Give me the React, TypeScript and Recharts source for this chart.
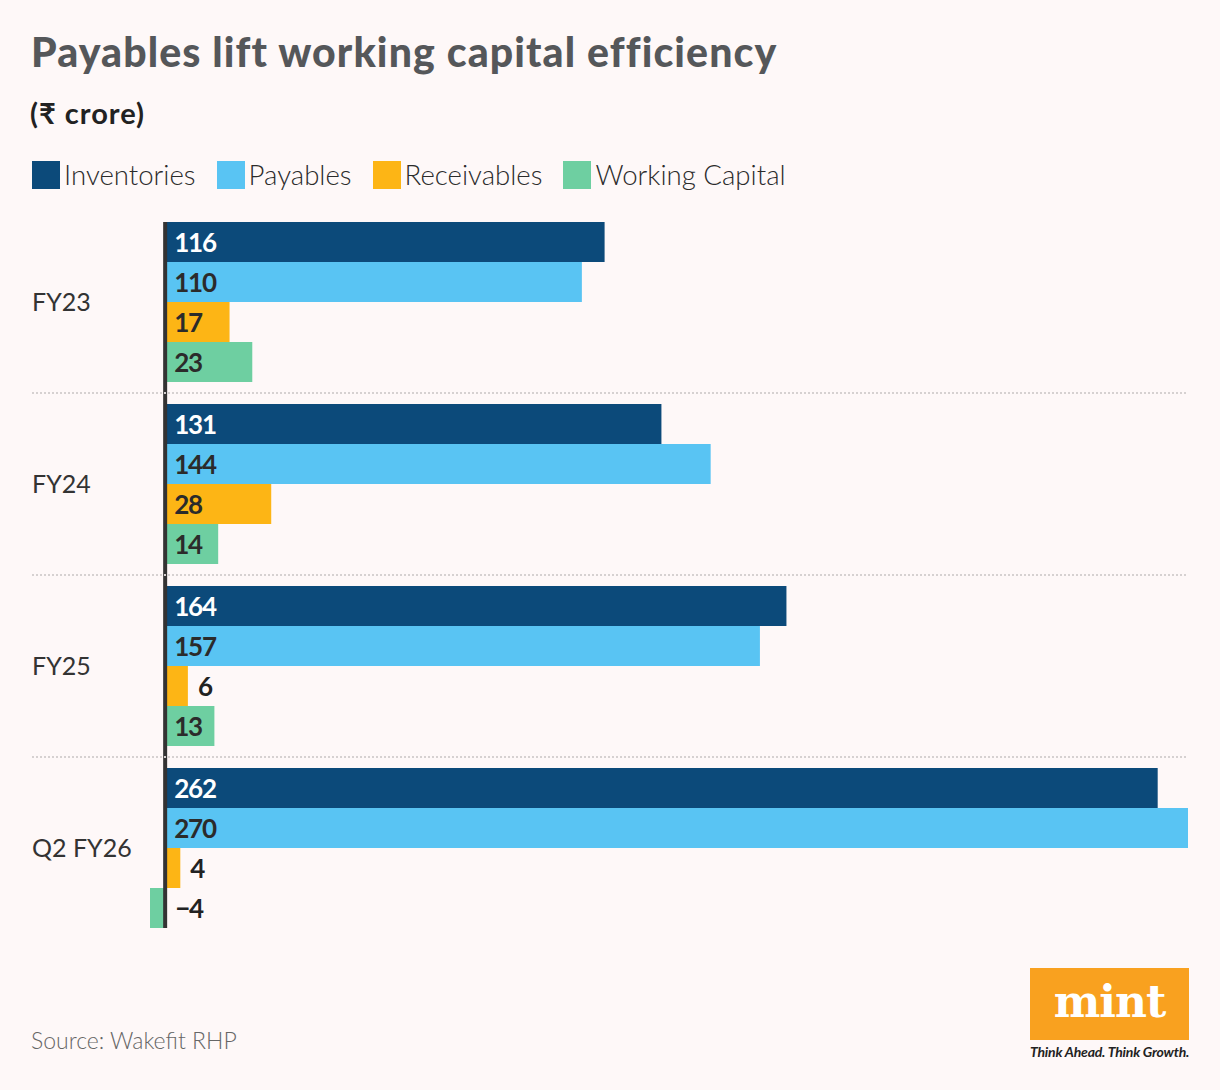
import { Bar, BarChart, LabelList, ReferenceLine, XAxis, YAxis } from "recharts";

// values (₹ crore)
const categories = ["FY23", "FY24", "FY25", "Q2 FY26"];
const inventories = [116, 131, 164, 262];
const payables = [110, 144, 157, 270];
const receivables = [17, 28, 6, 4];
const workingCapital = [23, 14, 13, -4];

const SERIES = [
  { key: "inventories", name: "Inventories", color: "#0c4a7a", text: "#ffffff" },
  { key: "payables", name: "Payables", color: "#59c4f3", text: "#2b2b2b" },
  { key: "receivables", name: "Receivables", color: "#fdb515", text: "#2b2b2b" },
  { key: "workingCapital", name: "Working Capital", color: "#6ecfa1", text: "#2b2b2b" },
] as const;

const BG = "#fef8f8";
const FONT = "Lato, 'Noto Sans', sans-serif";
const W = 1220;
const H = 1090;
const PLOT_TOP = 211;
const PLOT_BOTTOM = 939;
const BAND = (PLOT_BOTTOM - PLOT_TOP) / categories.length;

const data = categories.map((category, i) => ({
  category,
  inventories: inventories[i],
  payables: payables[i],
  receivables: receivables[i],
  workingCapital: workingCapital[i],
}));

function CategoryTick(props: any) {
  const { y, payload, index } = props;
  return (
    <g>
      {index > 0 && (
        <line
          x1={32}
          x2={1188}
          y1={y - BAND / 2}
          y2={y - BAND / 2}
          stroke="#d6d1d1"
          strokeWidth={2}
          strokeDasharray="2 2"
        />
      )}
      <text x={32} y={y} dy={9} textAnchor="start" fill="#333" fontSize={25} fontFamily={FONT}>
        {payload.value}
      </text>
    </g>
  );
}

function valueLabel(color: string) {
  return (props: any) => {
    const { x, y, width, height, value } = props;
    const small = Math.abs(value) < 10;
    const tx = small ? Math.max(x, x + width) + 10 : Math.min(x, x + width) + 9;
    const label = value < 0 ? `\u2212${Math.abs(value)}` : String(value);
    return (
      <text
        x={tx}
        y={y + height / 2}
        dy={9.5}
        fill={small ? "#222" : color}
        fontSize={26}
        fontWeight={700}
        fontFamily={FONT}
        letterSpacing={-1.2}
      >
        {label}
      </text>
    );
  };
}

export default function App() {
  return (
    <div
      style={{
        position: "absolute",
        top: 0,
        left: 0,
        width: W,
        height: H,
        background: BG,
        fontFamily: FONT,
        overflow: "hidden",
      }}
    >
      <div
        style={{
          position: "absolute",
          top: 27,
          left: 31,
          fontSize: 41,
          fontWeight: 900,
          color: "#55575a",
          letterSpacing: 1.1,
          whiteSpace: "nowrap",
        }}
      >
        Payables lift working capital efficiency
      </div>
      <div
        style={{
          position: "absolute",
          top: 95,
          left: 30,
          fontSize: 29,
          fontWeight: 700,
          color: "#222",
          letterSpacing: 1,
        }}
      >
        (₹ crore)
      </div>

      <div style={{ position: "absolute", top: 158, left: 32, display: "flex", alignItems: "center" }}>
        {SERIES.map((s) => (
          <div key={s.key} style={{ display: "flex", alignItems: "center", marginRight: 21 }}>
            <span style={{ width: 28, height: 28, background: s.color, display: "inline-block", marginRight: 4 }} />
            <span style={{ fontSize: 27.6, fontWeight: 300, color: "#2b2b2b", lineHeight: "34px" }}>{s.name}</span>
          </div>
        ))}
      </div>

      <div style={{ position: "absolute", top: 0, left: 0 }}>
        <BarChart
          width={W}
          height={H}
          data={data}
          layout="vertical"
          barSize={40}
          barGap={0}
          margin={{ top: PLOT_TOP, bottom: H - PLOT_BOTTOM, left: 0, right: 32 }}
        >
          <XAxis type="number" domain={[-4, 270]} hide />
          <YAxis
            type="category"
            dataKey="category"
            width={150}
            axisLine={false}
            tickLine={false}
            tick={<CategoryTick />}
          />
          {SERIES.map((s) => (
            <Bar key={s.key} dataKey={s.key} name={s.name} fill={s.color} isAnimationActive={false}>
              <LabelList dataKey={s.key} content={valueLabel(s.text)} />
            </Bar>
          ))}
          <ReferenceLine
            x={0}
            shape={(p: any) => (
              <line
                x1={p.x1}
                x2={p.x2}
                y1={Math.min(p.y1, p.y2) + 11}
                y2={Math.max(p.y1, p.y2) - 11}
                stroke="#333"
                strokeWidth={4}
              />
            )}
          />
        </BarChart>
      </div>

      <div style={{ position: "absolute", top: 1026, left: 31, fontSize: 23, fontWeight: 300, color: "#666" }}>
        Source: Wakefit RHP
      </div>

      <div
        style={{
          position: "absolute",
          top: 968,
          left: 1030,
          width: 159,
          height: 72,
          background: "#f9a11f",
          color: "#fff",
          fontFamily: "'DejaVu Serif', serif",
          fontWeight: 700,
          fontSize: 44,
          textAlign: "center",
          lineHeight: "68px",
          letterSpacing: -1,
        }}
      >
        mint
      </div>
      <div
        style={{
          position: "absolute",
          top: 1043,
          left: 1030,
          width: 160,
          fontSize: 14,
          fontStyle: "italic",
          fontWeight: 700,
          color: "#222",
          whiteSpace: "nowrap",
          letterSpacing: -0.2,
        }}
      >
        Think Ahead. Think Growth.
      </div>
    </div>
  );
}
